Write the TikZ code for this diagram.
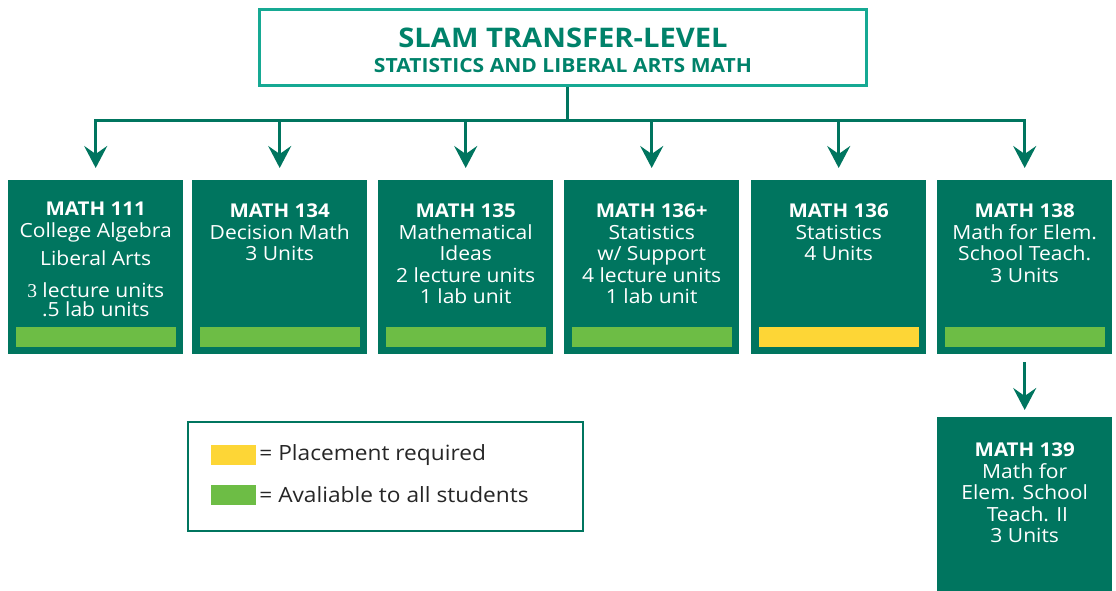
\documentclass[tikz,border=0pt]{standalone}
\usepackage{fontspec}
\setmainfont{Open Sans}[FakeStretch=1.08]
\newfontfamily\unitdigit{Liberation Serif}
\usetikzlibrary{arrows.meta,positioning}
\definecolor{slamteal}{HTML}{00755F}
\definecolor{slamframe}{HTML}{16A993}
\definecolor{slamhead}{HTML}{00826A}
\definecolor{barlime}{HTML}{6DBD45}
\definecolor{baryellow}{HTML}{FDD636}
\newcommand\coursename[1]{{\bfseries\fontsize{19}{21.5}\selectfont #1}}

\begin{document}
\begin{tikzpicture}[
			x = 1pt, y = -1pt,
			course/.style = {fill=slamteal, minimum width=175pt, minimum height=174pt, inner sep=0pt, anchor=north west},
			info/.style = {text=white, align=center, inner sep=0pt, anchor=north, font=\fontsize{19.5}{21.5}\selectfont},
			bar/.style = {minimum width=160pt, minimum height=20pt, inner sep=0pt},
			swatch/.style = {minimum width=45pt, minimum height=20pt, inner sep=0pt},
			link/.style = {draw=slamteal, line width=3pt},
			flow/.style = {link, -{Stealth[length=22pt,width=23pt,inset=8pt]}}]

			\useasboundingbox (0,0) rectangle (1116,590);

			\node[draw=slamframe, line width=3pt, minimum width=607pt, minimum height=76pt, text=slamhead, align=center, font=\bfseries\fontsize{27}{29}\selectfont] (title) at (563,47.5)
				{\rule{0pt}{24.5pt}SLAM TRANSFER-LEVEL\\[-4pt]{\fontsize{19.5}{21}\selectfont STATISTICS AND LIBERAL ARTS MATH}};

			\node[course] (m111) at (8,180) {};
			\node[course] (m134) at (192,180) {};
			\node[course] (m135) at (378,180) {};
			\node[course] (m136p) at (564,180) {};
			\node[course] (m136) at (751,180) {};
			\node[course] (m138) at (937,180) {};
			\node[course] (m139) at (937,417) {};

			\node[info] (m111t) at ([yshift=-22pt]m111.north) {\coursename{MATH 111}\\College Algebra\\[6.5pt]Liberal Arts\\[10.5pt]{\unitdigit 3} lecture units\\[-2.5pt].5 lab units};
			\node[info] (m134t) at ([yshift=-24pt]m134.north) {\coursename{MATH 134}\\Decision Math\\3 Units};
			\node[info] (m135t) at ([yshift=-24pt]m135.north) {\coursename{MATH 135}\\Mathematical\\Ideas\\2 lecture units\\1 lab unit};
			\node[info] (m136pt) at ([yshift=-24pt]m136p.north) {\coursename{MATH 136+}\\Statistics\\w/ Support\\4 lecture units\\1 lab unit};
			\node[info] (m136t) at ([yshift=-24pt]m136.north) {\coursename{MATH 136}\\Statistics\\4 Units};
			\node[info] (m138t) at ([yshift=-24pt]m138.north) {\coursename{MATH 138}\\Math for Elem.\\School Teach.\\3 Units};
			\node[info] (m139t) at ([yshift=-26pt]m139.north) {\coursename{MATH 139}\\Math for\\Elem. School\\\ Teach. II\\3 Units};

			\node[bar, fill=barlime] (m111b) at ([yshift=17pt]m111.south) {};
			\node[bar, fill=barlime] (m134b) at ([yshift=17pt]m134.south) {};
			\node[bar, fill=barlime] (m135b) at ([yshift=17pt]m135.south) {};
			\node[bar, fill=barlime] (m136pb) at ([yshift=17pt]m136p.south) {};
			\node[bar, fill=baryellow] (m136b) at ([yshift=17pt]m136.south) {};
			\node[bar, fill=barlime] (m138b) at ([yshift=17pt]m138.south) {};

			\coordinate (bus) at (567,120);
			\draw[link] (bus |- title.south) -- (bus);
			\draw[link] ([xshift=-1.5pt]m111.north |- bus) -- ([xshift=1.5pt]m138.north |- bus);
			\draw[flow, shorten >=12pt] (m111.north |- bus) -- (m111.north);
			\draw[flow, shorten >=12pt] (m134.north |- bus) -- (m134.north);
			\draw[flow, shorten >=12pt] (m135.north |- bus) -- (m135.north);
			\draw[flow, shorten >=12pt] (m136p.north |- bus) -- (m136p.north);
			\draw[flow, shorten >=12pt] (m136.north |- bus) -- (m136.north);
			\draw[flow, shorten >=12pt] (m138.north |- bus) -- (m138.north);
			\draw[flow, shorten <=8pt, shorten >=7pt] (m138.south) -- (m139.north);

			\node[draw=slamteal, line width=2pt, minimum width=395pt, minimum height=109pt] (legend) at (385.5,476.5) {};
			\node[swatch, fill=baryellow] (swy) at (233.5,455) {};
			\node[swatch, fill=barlime] (swg) at (233.5,495) {};
			\node[right=3pt of swy, inner sep=0pt, font=\fontsize{21}{23}\selectfont, text=black!85] (swyt) {= Placement required};
			\node[right=3pt of swg, inner sep=0pt, font=\fontsize{21}{23}\selectfont, text=black!85] (swgt) {= Avaliable to all students};

		\end{tikzpicture}
\end{document}
